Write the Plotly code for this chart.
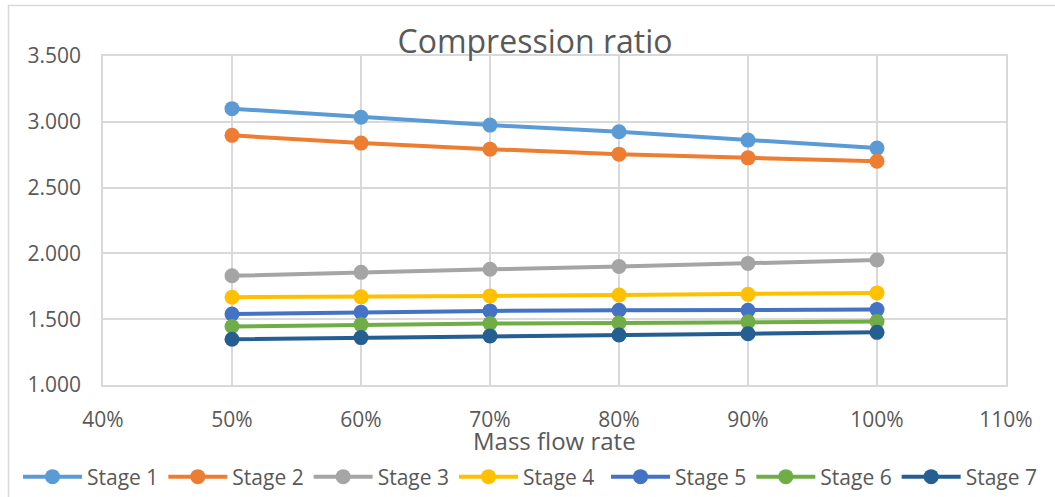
import plotly.graph_objects as go

# Mass flow rate (% of design) and compression ratio per stage
flow_pct = [50, 60, 70, 80, 90, 100]
stage_1 = [3.100, 3.035, 2.975, 2.924, 2.861, 2.800]
stage_2 = [2.897, 2.838, 2.792, 2.754, 2.726, 2.700]
stage_3 = [1.830, 1.856, 1.879, 1.900, 1.924, 1.950]
stage_4 = [1.667, 1.670, 1.677, 1.684, 1.689, 1.700]
stage_5 = [1.540, 1.553, 1.563, 1.568, 1.568, 1.573]
stage_6 = [1.444, 1.459, 1.467, 1.472, 1.480, 1.482]
stage_7 = [1.348, 1.360, 1.373, 1.380, 1.390, 1.400]

series_names = ["Stage 1", "Stage 2", "Stage 3", "Stage 4", "Stage 5", "Stage 6", "Stage 7"]
series_values = [stage_1, stage_2, stage_3, stage_4, stage_5, stage_6, stage_7]
series_colors = ["#5B9BD5", "#ED7D31", "#A5A5A5", "#FFC000", "#4472C4", "#70AD47", "#255E91"]

x_ticks = [40, 50, 60, 70, 80, 90, 100, 110]
y_ticks = [1.0, 1.5, 2.0, 2.5, 3.0, 3.5]

FONT = "Open Sans"
TEXT = "#595959"
GRID = "#D9D9D9"

fig = go.Figure()
for i, (name, vals, col) in enumerate(zip(series_names, series_values, series_colors)):
    fig.add_trace(go.Scatter(
        x=flow_pct, y=vals, name=name, mode="lines+markers",
        line=dict(color=col, width=4),
        marker=dict(color=col, size=15),
        # the single legend row is split over two legend boxes so it is not wrapped
        legend="legend" if i < 4 else "legend2",
    ))

W, H = 1055, 497
L, R, T, B = 103, 49, 56, 112
pw, ph = W - L - R, H - T - B

ENTRY = 147      # horizontal pitch of one legend entry, px
LEG_X0 = 18      # left edge of the legend row, px
LEG_Y = 477      # vertical centre of the legend row, px

legend_style = dict(orientation="h", xanchor="left",
                    y=(T + ph - LEG_Y) / ph, yanchor="middle",
                    font=dict(family=FONT, size=21, color=TEXT),
                    itemwidth=59, tracegroupgap=0, bgcolor="rgba(0,0,0,0)")

fig.update_layout(
    width=W, height=H,
    margin=dict(l=L, r=R, t=T, b=B, autoexpand=False),
    paper_bgcolor="white", plot_bgcolor="white",
    font=dict(family=FONT, color=TEXT, size=21),
    title=dict(text="Compression ratio", x=535 / W, xanchor="center",
               y=1 - 42 / H, yanchor="middle",
               font=dict(family=FONT, size=32, color=TEXT)),
    showlegend=True,
    legend=dict(x=(LEG_X0 - L) / pw, **legend_style),
    legend2=dict(x=(LEG_X0 + 4 * ENTRY - L) / pw, **legend_style),
    xaxis=dict(range=[40, 110], tickvals=x_ticks,
               ticktext=[f"{v}%" for v in x_ticks],
               showgrid=True, gridcolor=GRID, gridwidth=1.5,
               zeroline=False, showline=True, linecolor=GRID, linewidth=1.5,
               mirror=True, ticks="", ticklabelstandoff=15, automargin=False),
    yaxis=dict(range=[1.0, 3.5], tickvals=y_ticks,
               ticktext=[f"{v:.3f}" for v in y_ticks],
               showgrid=True, gridcolor=GRID, gridwidth=1.5,
               zeroline=False, showline=True, linecolor=GRID, linewidth=1.5,
               mirror=True, ticks="", ticklabelstandoff=16, automargin=False),
    annotations=[dict(text="Mass flow rate", xref="paper", yref="paper",
                      x=0.5, y=(T + ph - 440) / ph, xanchor="center", yanchor="middle",
                      showarrow=False, font=dict(family=FONT, size=24, color=TEXT))],
    shapes=[dict(type="rect", xref="paper", yref="paper",
                 x0=(8.5 - L) / pw, x1=(W + 10 - L) / pw,
                 y0=(T + ph - (H + 10)) / ph, y1=(T + ph - 5.5) / ph,
                 line=dict(color=GRID, width=1.5), layer="below")],
)

fig.write_html("out.html")
